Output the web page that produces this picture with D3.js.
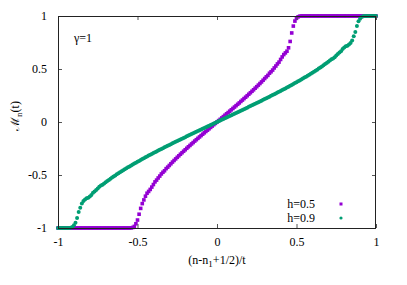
<!DOCTYPE html>
<html>
<head>
<meta charset="utf-8">
<script src="https://cdn.jsdelivr.net/npm/d3@7"></script>
<style>
html,body{margin:0;padding:0;background:#fff;}
svg{display:block;}
text{font-family:"Liberation Serif","Times New Roman",Times,"DejaVu Serif",serif;fill:#000;}
</style>
</head>
<body>
<svg id="chart" width="407" height="285"></svg>
<script>
// x = (n-n1+1/2)/t
const xs = [
-1,-0.99,-0.98,-0.97,-0.96,-0.95,-0.94,-0.93,-0.92,-0.91,
-0.9,-0.89,-0.88,-0.87,-0.86,-0.85,-0.84,-0.83,-0.82,-0.81,
-0.8,-0.79,-0.78,-0.77,-0.76,-0.75,-0.74,-0.73,-0.72,-0.71,
-0.7,-0.69,-0.68,-0.67,-0.66,-0.65,-0.64,-0.63,-0.62,-0.61,
-0.6,-0.59,-0.58,-0.57,-0.56,-0.55,-0.54,-0.53,-0.52,-0.51,
-0.5,-0.49,-0.48,-0.47,-0.46,-0.45,-0.44,-0.43,-0.42,-0.41,
-0.4,-0.39,-0.38,-0.37,-0.36,-0.35,-0.34,-0.33,-0.32,-0.31,
-0.3,-0.29,-0.28,-0.27,-0.26,-0.25,-0.24,-0.23,-0.22,-0.21,
-0.2,-0.19,-0.18,-0.17,-0.16,-0.15,-0.14,-0.13,-0.12,-0.11,
-0.1,-0.09,-0.08,-0.07,-0.06,-0.05,-0.04,-0.03,-0.02,-0.01,
0,
0.01,0.02,0.03,0.04,0.05,0.06,0.07,0.08,0.09,0.1,
0.11,0.12,0.13,0.14,0.15,0.16,0.17,0.18,0.19,0.2,
0.21,0.22,0.23,0.24,0.25,0.26,0.27,0.28,0.29,0.3,
0.31,0.32,0.33,0.34,0.35,0.36,0.37,0.38,0.39,0.4,
0.41,0.42,0.43,0.44,0.45,0.46,0.47,0.48,0.49,0.5,
0.51,0.52,0.53,0.54,0.55,0.56,0.57,0.58,0.59,0.6,
0.61,0.62,0.63,0.64,0.65,0.66,0.67,0.68,0.69,0.7,
0.71,0.72,0.73,0.74,0.75,0.76,0.77,0.78,0.79,0.8,
0.81,0.82,0.83,0.84,0.85,0.86,0.87,0.88,0.89,0.9,
0.91,0.92,0.93,0.94,0.95,0.96,0.97,0.98,0.99,1
];

// h = 0.5
const mH05 = [
-1,-1,-1,-1,-1,-1,-1,-1,-1,-1,
-1,-1,-1,-1,-1,-1,-1,-1,-1,-1,
-1,-1,-1,-1,-1,-1,-1,-1,-1,-1,
-1,-1,-1,-1,-1,-1,-1,-1,-1,-1,
-1,-1,-1,-1,-1,-1,
-0.999,-0.995,-0.985,-0.96,-0.925,-0.87,-0.815,-0.77,-0.735,-0.70,-0.672,-0.655,-0.636,-0.614,
-0.59,-0.565,-0.548,-0.528,-0.51,-0.49,-0.474,-0.46,-0.44,-0.426,
-0.41,-0.394,-0.378,-0.363,-0.348,-0.333,-0.319,-0.304,-0.29,-0.276,
-0.262,-0.248,-0.234,-0.221,-0.207,-0.194,-0.18,-0.167,-0.154,-0.141,
-0.128,-0.115,-0.102,-0.089,-0.077,-0.064,-0.051,-0.038,-0.025,-0.013,
0,
0.013,0.025,0.038,0.051,0.064,0.077,0.089,0.102,0.115,0.128,
0.141,0.154,0.167,0.18,0.194,0.207,0.221,0.234,0.248,0.262,
0.276,0.29,0.304,0.319,0.333,0.348,0.363,0.378,0.394,0.41,
0.426,0.44,0.46,0.474,0.49,0.51,0.528,0.548,0.565,0.59,
0.614,0.636,0.652,0.668,0.70,0.76,0.84,0.905,0.952,0.978,
0.992,0.998,1,
1,1,1,1,1,1,1,1,1,1,
1,1,1,1,1,1,1,1,1,1,
1,1,1,1,1,1,1,1,1,1,
1,1,1,1,1,1,1,1,1,1,
1,1,1,1,1,1,1
];

// h = 0.9
const mH09 = [
-1,-1,-1,-1,-1,-1,-1,-1,
-0.997,-0.99,-0.975,-0.95,-0.905,-0.85,-0.81,-0.77,-0.745,-0.73,-0.72,-0.714,
-0.704,-0.688,-0.668,-0.655,-0.642,-0.628,-0.612,-0.6,-0.592,-0.58,
-0.568,-0.556,-0.546,-0.535,-0.524,-0.514,-0.504,-0.494,-0.484,-0.474,
-0.465,-0.455,-0.446,-0.437,-0.428,-0.419,-0.41,-0.401,-0.392,-0.384,
-0.375,-0.367,-0.358,-0.35,-0.342,-0.333,-0.325,-0.317,-0.309,-0.301,
-0.293,-0.285,-0.278,-0.27,-0.262,-0.254,-0.247,-0.239,-0.232,-0.224,
-0.216,-0.209,-0.201,-0.194,-0.187,-0.179,-0.172,-0.165,-0.157,-0.15,
-0.143,-0.135,-0.128,-0.121,-0.114,-0.107,-0.099,-0.092,-0.085,-0.078,
-0.071,-0.064,-0.057,-0.05,-0.042,-0.035,-0.028,-0.021,-0.014,-0.007,
0,
0.007,0.014,0.021,0.028,0.035,0.042,0.05,0.057,0.064,0.071,
0.078,0.085,0.092,0.099,0.107,0.114,0.121,0.128,0.135,0.143,
0.15,0.157,0.165,0.172,0.179,0.187,0.194,0.201,0.209,0.216,
0.224,0.232,0.239,0.247,0.254,0.262,0.27,0.278,0.285,0.293,
0.301,0.309,0.317,0.325,0.333,0.342,0.35,0.358,0.367,0.375,
0.384,0.392,0.401,0.41,0.419,0.428,0.437,0.446,0.455,0.465,
0.474,0.484,0.494,0.504,0.514,0.524,0.535,0.546,0.556,0.568,
0.58,0.592,0.6,0.612,0.628,0.642,0.655,0.668,0.688,0.704,
0.714,0.72,0.73,0.745,0.77,0.81,0.85,0.905,0.95,0.975,
0.99,0.997,
1,1,1,1,1,1,1,1
];

const xTicks = [-1, -0.5, 0, 0.5, 1];
const xTickLabels = ["-1", "-0.5", "0", "0.5", "1"];
const yTicks = [-1, -0.5, 0, 0.5, 1];
const yTickLabels = ["-1", "-0.5", "0", "0.5", "1"];
const seriesNames = ["h=0.5", "h=0.9"];

const W = 407, H = 285;
const m = {left: 58, right: 31, top: 16, bottom: 57};
const svg = d3.select("#chart");
const FONT = '"Liberation Serif","Times New Roman",Times,"DejaVu Serif",serif';

const x = d3.scaleLinear().domain([-1, 1]).range([m.left, W - m.right]);
const y = d3.scaleLinear().domain([-1, 1]).range([H - m.bottom, m.top]);

const purple = "#9400d3", green = "#009e73";

// data points
const d05 = xs.map((v, i) => [v, mH05[i]]);
const d09 = xs.map((v, i) => [v, mH09[i]]);
const s = 3.6;
svg.append("g").selectAll("rect").data(d05).join("rect")
  .attr("x", d => x(d[0]) - s/2).attr("y", d => y(d[1]) - s/2)
  .attr("width", s).attr("height", s).attr("fill", purple);
svg.append("g").selectAll("circle").data(d09).join("circle")
  .attr("cx", d => x(d[0])).attr("cy", d => y(d[1]))
  .attr("r", 2).attr("fill", green);

// axes (ticks inward on all four sides)
const fmtX = (d) => xTickLabels[xTicks.indexOf(d)];
const fmtY = (d) => yTickLabels[yTicks.indexOf(d)];
function styleAxis(g){
  g.attr("font-family", null).attr("font-size", null);
  g.select(".domain").remove();
  g.selectAll(".tick line").attr("stroke", "#555").attr("stroke-width", 1);
  g.selectAll(".tick text").style("font-family", FONT).style("font-size", "12px").attr("fill", "#000");
}
svg.append("g").attr("transform", `translate(0,${H - m.bottom})`)
  .call(d3.axisBottom(x).tickValues(xTicks).tickFormat(fmtX).tickSize(-4).tickPadding(9))
  .call(styleAxis);
svg.append("g").attr("transform", `translate(0,${m.top})`)
  .call(d3.axisTop(x).tickValues(xTicks).tickFormat("").tickSize(-4))
  .call(styleAxis);
svg.append("g").attr("transform", `translate(${m.left},0)`)
  .call(d3.axisLeft(y).tickValues(yTicks).tickFormat(fmtY).tickSize(-4).tickPadding(11))
  .call(styleAxis);
svg.append("g").attr("transform", `translate(${W - m.right},0)`)
  .call(d3.axisRight(y).tickValues(yTicks).tickFormat("").tickSize(-4))
  .call(styleAxis);

// border
svg.append("rect").attr("x", m.left + 0.5).attr("y", m.top + 0.5)
  .attr("width", W - m.left - m.right - 1).attr("height", H - m.top - m.bottom)
  .attr("fill", "none").attr("stroke", "#222").attr("stroke-width", 1);

// labels
svg.append("text").attr("x", 74).attr("y", 42).style("font-size", "12px").text("γ=1");

const xl = svg.append("text").attr("x", x(0)).attr("y", 264)
  .attr("text-anchor", "middle").style("font-size", "12px");
xl.append("tspan").text("(n-n");
xl.append("tspan").attr("dy", 3).style("font-size", "9px").text("1");
xl.append("tspan").attr("dy", -3).text("+1/2)/t");

const yl = svg.append("text").attr("transform", `translate(19,${y(0) - 6}) rotate(-90)`)
  .attr("text-anchor", "middle").style("font-size", "12px");
yl.append("tspan").style("font-family", '"DejaVu Serif","Liberation Serif",serif').text("ℳ");
yl.append("tspan").attr("dy", 3).style("font-size", "9px").text("n");
yl.append("tspan").attr("dy", -3).text("(t)");

// legend
const legY = [204, 218];
svg.append("text").attr("x", 315).attr("y", legY[0] + 4).attr("text-anchor", "end").style("font-size", "12px").text(seriesNames[0]);
svg.append("text").attr("x", 315).attr("y", legY[1] + 4).attr("text-anchor", "end").style("font-size", "12px").text(seriesNames[1]);
svg.append("rect").attr("x", 341 - 1.5).attr("y", legY[0] - 1.5).attr("width", 3).attr("height", 3).attr("fill", purple);
svg.append("circle").attr("cx", 341).attr("cy", legY[1]).attr("r", 1.6).attr("fill", green);
</script>
</body>
</html>
